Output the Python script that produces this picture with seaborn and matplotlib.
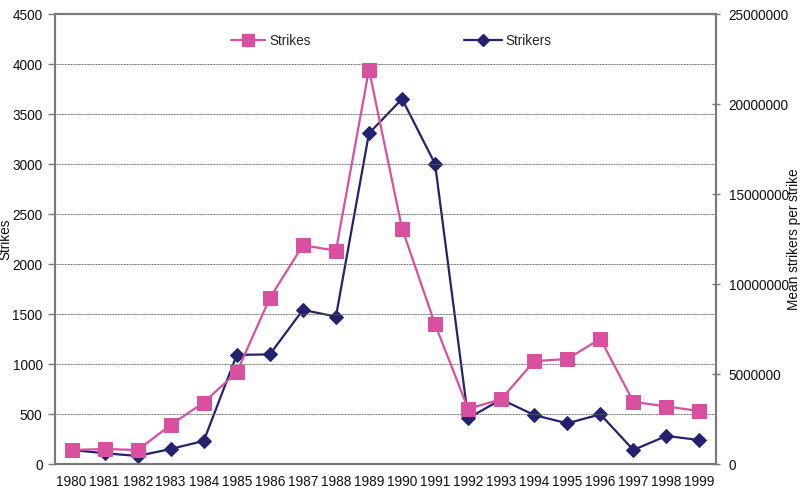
import numpy as np
import pandas as pd
import matplotlib
matplotlib.use("Agg")
import matplotlib.pyplot as plt
import seaborn as sns
from matplotlib.lines import Line2D

years = [str(y) for y in range(1980, 2000)]
strikes = [140, 150, 140, 390, 615, 918, 1658, 2188, 2133, 3945,
           2355, 1397, 552, 648, 1028, 1050, 1252, 622, 575, 530]
strikers = [780000, 600000, 445000, 835000, 1280000, 6060000, 6090000, 8560000, 8190000, 18370000,
            20280000, 16670000, 2540000, 3590000, 2720000, 2260000, 2760000, 780000, 1560000, 1330000]

pink = "#D9509F"
navy = "#24226F"
spine_col = "#7a7a7a"
fs = 9.8

sns.set_theme(style="white")
plt.rcParams["font.family"] = ["Liberation Sans", "DejaVu Sans"]

df = pd.DataFrame({"pos": np.arange(len(years)), "year": years,
                   "Strikes": strikes, "Strikers": strikers})

fig = plt.figure(figsize=(8, 4.88), dpi=100)
ax = fig.add_axes([55 / 800, 1 - 464 / 488, (716 - 55) / 800, (464 - 14) / 488])
ax2 = ax.twinx()

sns.lineplot(data=df, x="pos", y="Strikes", ax=ax, color=pink, marker="s",
             markersize=9.5, markeredgecolor=pink, linewidth=1.6, zorder=3)
sns.lineplot(data=df, x="pos", y="Strikers", ax=ax2, color=navy, marker="D",
             markersize=7, markeredgecolor=navy, linewidth=1.6, zorder=3)

ax.set_xlim(-0.5, len(years) - 0.5)
ax.set_ylim(0, 4500)
ax2.set_ylim(0, 25000000)
ax.set_yticks(np.arange(0, 4501, 500))
ax2.set_yticks(np.arange(0, 25000001, 5000000))
ax2.set_yticklabels([f"{int(v)}" for v in np.arange(0, 25000001, 5000000)])

ax.set_xticks(df["pos"])
ax.set_xticklabels(years)
ax.set_xticks(np.arange(-0.5, len(years), 1.0), minor=True)
ax.tick_params(axis="x", which="major", length=0, pad=8, labelsize=fs, colors="#111")
ax.tick_params(axis="x", which="minor", length=5, width=1, color=spine_col, direction="out")
ax.tick_params(axis="y", length=5, width=1, color=spine_col, direction="out",
               labelsize=fs, labelcolor="#111", left=True, pad=4)
ax2.tick_params(axis="y", length=6, width=1, color=spine_col, direction="inout",
                labelsize=fs, labelcolor="#111", right=True, pad=6)

ax.yaxis.grid(True, color="#666666", linewidth=0.7, linestyle=(0, (1, 0.6)))
ax.set_axisbelow(True)

for a in (ax, ax2):
    for s in a.spines.values():
        s.set_color(spine_col)
        s.set_linewidth(1.5)

ax.set_xlabel("")
ax.set_ylabel("Strikes", fontsize=fs, color="#111")
ax2.set_ylabel("Mean strikers per strike", fontsize=fs, color="#111", rotation=90)
ax2.yaxis.set_label_coords(1.108, 0.5)
ax.yaxis.set_label_coords(-0.064, 0.5)

ax.set_zorder(2)
ax.patch.set_visible(False)
ax2.set_zorder(1)

h1 = Line2D([], [], color=pink, marker="s", markersize=8.5, linewidth=1.6)
h2 = Line2D([], [], color=navy, marker="D", markersize=6.5, linewidth=1.6)
fig.legend([h1], ["Strikes"], loc="center left", bbox_to_anchor=(219 / 800, 1 - 41 / 488),
           frameon=False, fontsize=fs, handlelength=2.5, handletextpad=0.3)
fig.legend([h2], ["Strikers"], loc="center left", bbox_to_anchor=(452 / 800, 1 - 41 / 488),
           frameon=False, fontsize=fs, handlelength=2.8, handletextpad=0.2)

fig.savefig("out.png", dpi=100)
